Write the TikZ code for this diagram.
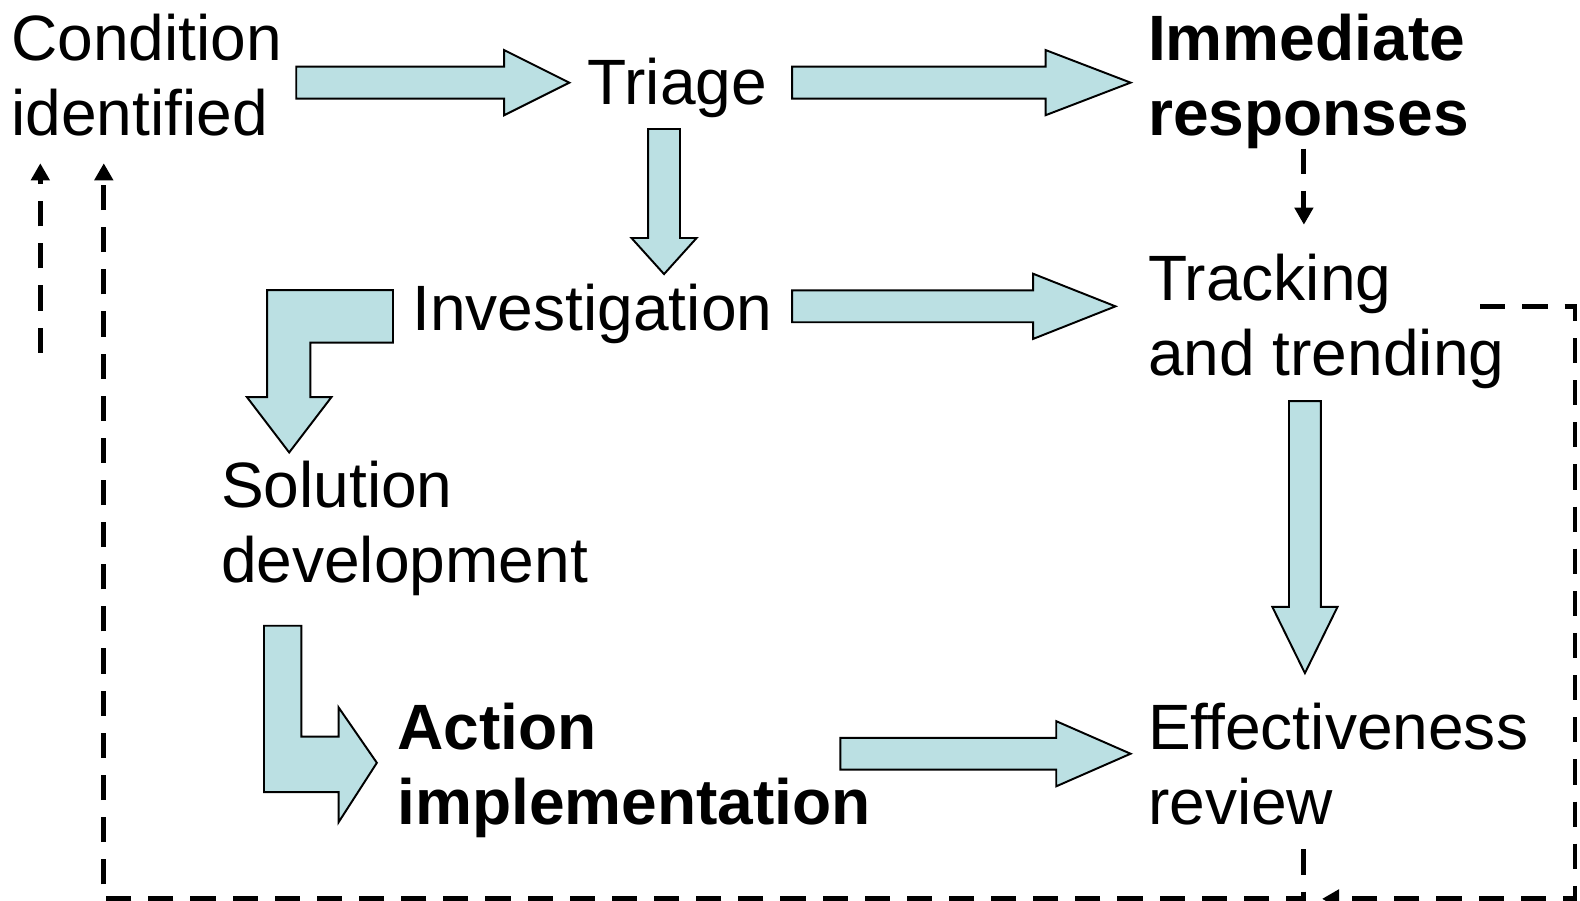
\documentclass[tikz,border=0pt]{standalone}
\usepackage{fontspec}
\setmainfont{Liberation Sans}
\usepackage{xcolor}
\usepackage{tikz}
\usetikzlibrary{arrows.meta, positioning, calc}
\definecolor{CA_CYAN}{HTML}{BBE0E3}
\definecolor{CA_DARK}{HTML}{000000}
\tikzset{
  stage/.style={
    rectangle, inner sep=0pt, anchor=base west,
    align=left, text=CA_DARK,
    font=\fontsize{36.2}{42.3}\selectfont},
  keystage/.style={
    stage, font=\fontsize{36.2}{42.3}\selectfont\bfseries},
  fat/.style={draw=CA_DARK, fill=CA_CYAN, line width=1.1pt, line join=miter},
  fb/.style={-{Triangle[length=0.34cm,width=0.36cm]}, line width=2.8pt,
    dash pattern=on 14.2pt off 9.6pt, color=CA_DARK},
}
% horizontal block arrow: [head length]{from}{tip}
\newcommand{\blockh}[3][36pt]{%
  \draw[fat] let \p1=(#2), \p2=(#3) in
    (\x1,\y1+9pt) -- (\x2-#1,\y1+9pt) -- (\x2-#1,\y1+18.4pt) -- (\x2,\y1)
    -- (\x2-#1,\y1-18.4pt) -- (\x2-#1,\y1-9pt) -- (\x1,\y1-9pt) -- cycle;}
% downward block arrow: [head length]{from}{tip}
\newcommand{\blockv}[3][36pt]{%
  \draw[fat] let \p1=(#2), \p2=(#3) in
    (\x1-9pt,\y1) -- (\x1-9pt,\y2+#1) -- (\x1-18.4pt,\y2+#1) -- (\x1,\y2)
    -- (\x1+18.4pt,\y2+#1) -- (\x1+9pt,\y2+#1) -- (\x1+9pt,\y1) -- cycle;}

\begin{document}
\begin{tikzpicture}[x=0.02cm, y=-0.02cm]

  \useasboundingbox (0,0) rectangle (1568,894);

  % base = baseline of the last line
  \node[stage] (cond) at (11,134) {Condition\\identified};
  \node[stage] (triage) at (583,104) {Triage};
  \node[keystage] (immed) at (1139,134) {Immediate\\responses};
  \node[stage] (invest) at (409,328) {Investigation};
  \node[stage] (track) at (1139,373) {Tracking\\and trending};
  \node[stage] (solut) at (219,578) {Solution\\development};
  \node[keystage] (action) at (394,818) {Action\\implementation};
  \node[stage] (effect) at (1139,818) {Effectiveness\\review};

  \coordinate (c2t-s) at (294,82);   \coordinate (c2t-e) at (565,82);
  \coordinate (t2i-s) at (786,82);   \coordinate (t2i-e) at (1122,82);
  \coordinate (t2v-s) at (659,128);  \coordinate (t2v-e) at (659,272);
  \coordinate (v2k-s) at (786,304);  \coordinate (v2k-e) at (1107,304);
  \coordinate (a2e-s) at (834,748);  \coordinate (a2e-e) at (1122,748);
  \coordinate (k2e-s) at (1295,398); \coordinate (k2e-e) at (1295,668);

  \blockh[36.8pt]{c2t-s}{c2t-e}
  \blockh[48pt]{t2i-s}{t2i-e}
  \blockv[20.4pt]{t2v-s}{t2v-e}
  \blockh[46.5pt]{v2k-s}{v2k-e}
  \blockh[42pt]{a2e-s}{a2e-e}
  \blockv[37.4pt]{k2e-s}{k2e-e}

  % bent arrows
  \draw[fat] (390,288) -- (390,340) -- (308,340) -- (308,394) -- (329,394)
    -- (287,449) -- (245,394) -- (265,394) -- (265,288) -- cycle;
  \draw[fat] (262,621) -- (299,621) -- (299,731) -- (336,731) -- (336,702)
    -- (374,757) -- (336,816) -- (336,786) -- (262,786) -- cycle;

  \coordinate (trk-in)  at (1294,223);
  \coordinate (trk-out) at (1469,304);
  \coordinate (rt-corner) at (1563,892);
  \coordinate (rev-in)  at (1312,892);
  \coordinate (eff-out) at (1294,843);
  \coordinate (lt-corner) at (103,892);
  \coordinate (cond-in) at (103,162);
  \coordinate (stub)    at (40,350);
  \coordinate (cond-in2) at (40,162);

  \draw[fb] (trk-in |- immed.south) -- (trk-in);
  \draw[fb] (trk-out) -| (rt-corner) -- (rev-in);
  \draw[fb] (eff-out) |- (lt-corner) -- (cond-in);
  \draw[fb] (stub) -- (cond-in2);

\end{tikzpicture}
\end{document}
